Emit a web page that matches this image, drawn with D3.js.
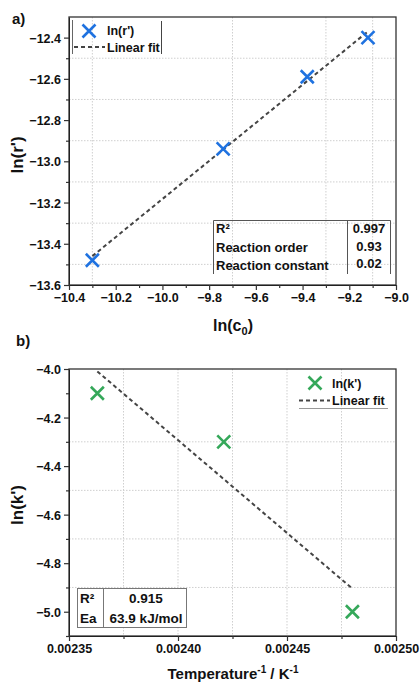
<!DOCTYPE html>
<html>
<head>
<meta charset="utf-8">
<script src="https://cdn.jsdelivr.net/npm/d3@7"></script>
<style>
  body { margin: 0; background: #fff; }
  text { font-family: "Liberation Sans", Arial, sans-serif; font-weight: bold; fill: #111; }
</style>
</head>
<body>
<svg width="420" height="683"></svg>
<script>
"use strict";
// panel a: ln(r') vs ln(c0)
const lnC0 = [-10.30, -9.74, -9.38, -9.12];
const lnR = [-13.48, -12.94, -12.59, -12.40];
const fitAx = [-10.30, -9.12];
const fitAy = [-13.46, -12.37];
const aXTicks = [-10.4, -10.2, -10.0, -9.8, -9.6, -9.4, -9.2, -9.0];
const aYTicks = [-13.6, -13.4, -13.2, -13.0, -12.8, -12.6, -12.4];
const aXGrid = [-10.3, -9.7, -9.3, -9.1];
const aYGrid = [-13.5, -13.3, -13.1, -12.9, -12.7, -12.5];
const aTable = [["R²", "0.997"], ["Reaction order", "0.93"], ["Reaction constant", "0.02"]];

// panel b: ln(k') vs 1/T
const invT = [0.002363, 0.002421, 0.002480];
const lnK = [-4.10, -4.30, -5.00];
const fitBx = [0.002363, 0.002480];
const fitBy = [-4.01, -4.905];
const bXTicks = [0.00235, 0.00240, 0.00245, 0.00250];
const bYTicks = [-5.0, -4.8, -4.6, -4.4, -4.2, -4.0];
const bXGrid = [0.002375, 0.00240, 0.002425, 0.00245, 0.002475];
const bYGrid = [-4.9, -4.7, -4.5, -4.3];
const bTable = [["R²", "0.915"], ["Ea", "63.9 kJ/mol"]];

const blue = "#1f72e0", green = "#35a85a", axisCol = "#333";
const xPath = "M-6.5,-6.5L6.5,6.5M-6.5,6.5L6.5,-6.5";
let svg = d3.select("svg");

function xMark(g, x, y, xs, ys, color) {
    g.selectAll("path.pt")
        .data(xs)
        .enter().append("path")
        .attr("class", "pt")
        .attr("transform", (d, i) => "translate(" + x(d) + "," + y(ys[i]) + ")")
        .attr("d", xPath)
        .attr("stroke", color)
        .attr("stroke-width", 2.6)
        .attr("fill", "none");
}

function panel(opt) {
    let g = svg.append("g");
    let x = d3.scaleLinear().domain(opt.xDomain).range([69, 396]);
    let y = d3.scaleLinear().domain(opt.yDomain).range(opt.yRange);
    let top = opt.yRange[1], bottom = opt.yRange[0];

    // grid
    g.selectAll("line.gx").data(opt.xGrid).enter().append("line")
        .attr("x1", d => x(d)).attr("x2", d => x(d))
        .attr("y1", top).attr("y2", bottom)
        .attr("stroke", "#cfcfcf").attr("stroke-dasharray", "1.5,1.5");
    g.selectAll("line.gy").data(opt.yGrid).enter().append("line")
        .attr("x1", 69).attr("x2", 396)
        .attr("y1", d => y(d)).attr("y2", d => y(d))
        .attr("stroke", "#cfcfcf").attr("stroke-dasharray", "1.5,1.5");

    // minor ticks
    g.append("g").attr("transform", "translate(0," + bottom + ")")
        .call(d3.axisBottom(x).tickValues(opt.xMinor).tickSize(3).tickFormat("").tickSizeOuter(0));
    g.append("g").attr("transform", "translate(69,0)")
        .call(d3.axisLeft(y).tickValues(opt.yMinor).tickSize(3).tickFormat("").tickSizeOuter(0));

    // major axes
    let xa = g.append("g").attr("transform", "translate(0," + bottom + ")")
        .call(d3.axisBottom(x).tickValues(opt.xTicks).tickFormat(opt.xFmt).tickSize(5).tickSizeOuter(0));
    let ya = g.append("g").attr("transform", "translate(69,0)")
        .call(d3.axisLeft(y).tickValues(opt.yTicks).tickFormat(d3.format(".1f")).tickSize(5).tickSizeOuter(0));
    [xa, ya].forEach(a => {
        a.selectAll("text").style("font-size", "12.5px").attr("fill", "#111");
        a.select(".domain").remove();
    });
    xa.selectAll("text").attr("y", 8);
    ya.selectAll("text").attr("x", -8).attr("dy", "0.36em");
    g.selectAll(".tick line").attr("stroke", axisCol).attr("stroke-width", 1.2);

    g.append("rect")
        .attr("x", 69).attr("y", top)
        .attr("width", 327).attr("height", bottom - top)
        .attr("fill", "none").attr("stroke", axisCol).attr("stroke-width", 1.3);

    // fit line
    g.append("path")
        .datum(opt.fitX)
        .attr("d", d3.line().x(d => x(d)).y((d, i) => y(opt.fitY[i])))
        .attr("stroke", "#444").attr("stroke-width", 2)
        .attr("stroke-dasharray", "4,3").attr("fill", "none");

    xMark(g, x, y, opt.xs, opt.ys, opt.color);
    return g;
}

panel({
    xDomain: [-10.4, -9.0], yDomain: [-13.6, -12.3], yRange: [285, 17],
    xTicks: aXTicks, yTicks: aYTicks,
    xMinor: d3.range(-10.3, -9.0, 0.2), yMinor: d3.range(-13.5, -12.35, 0.2),
    xGrid: aXGrid, yGrid: aYGrid, xFmt: d3.format(".1f"),
    fitX: fitAx, fitY: fitAy, xs: lnC0, ys: lnR, color: blue
});

panel({
    xDomain: [0.00235, 0.00250], yDomain: [-5.1, -4.0], yRange: [636, 369],
    xTicks: bXTicks, yTicks: bYTicks,
    xMinor: [0.002375, 0.002425, 0.002475], yMinor: d3.range(-5.1, -4.05, 0.2),
    xGrid: bXGrid, yGrid: bYGrid, xFmt: d3.format(".5f"),
    fitX: fitBx, fitY: fitBy, xs: invT, ys: lnK, color: green
});

// panel labels
svg.append("text").attr("x", 12).attr("y", 24).style("font-size", "15px").text("a)");
svg.append("text").attr("x", 16).attr("y", 346).style("font-size", "15px").text("b)");

// axis titles
svg.append("text").attr("transform", "translate(23,155) rotate(-90)")
    .attr("text-anchor", "middle").style("font-size", "17px").text("ln(r')");
svg.append("text").attr("transform", "translate(23,505) rotate(-90)")
    .attr("text-anchor", "middle").style("font-size", "17px").text("ln(k')");

let tA = svg.append("text").attr("x", 233).attr("y", 331)
    .attr("text-anchor", "middle").style("font-size", "16px");
tA.append("tspan").text("ln(c");
tA.append("tspan").attr("dy", 4).style("font-size", "11px").text("0");
tA.append("tspan").attr("dy", -4).text(")");

let tB = svg.append("text").attr("x", 233).attr("y", 679)
    .attr("text-anchor", "middle").style("font-size", "15px");
tB.append("tspan").text("Temperature");
tB.append("tspan").attr("dy", -6).style("font-size", "10px").text("-1");
tB.append("tspan").attr("dy", 6).text(" / K");
tB.append("tspan").attr("dy", -6).style("font-size", "10px").text("-1");

// legend a
let la = svg.append("g");
la.append("line").attr("x1", 72.5).attr("x2", 72.5).attr("y1", 20).attr("y2", 54).attr("stroke", "#666");
la.append("line").attr("x1", 161.5).attr("x2", 161.5).attr("y1", 21).attr("y2", 54).attr("stroke", "#444");
la.append("path").attr("transform", "translate(89,31)")
    .attr("d", xPath)
    .attr("stroke", blue).attr("stroke-width", 2.6).attr("fill", "none");
la.append("line").attr("x1", 74).attr("x2", 105).attr("y1", 47).attr("y2", 47)
    .attr("stroke", "#444").attr("stroke-width", 2).attr("stroke-dasharray", "4,3");
la.append("text").attr("x", 107).attr("y", 35).style("font-size", "12.5px").text("ln(r')");
la.append("text").attr("x", 107).attr("y", 51.5).style("font-size", "12.5px").text("Linear fit");

// legend b
let lb = svg.append("g");
lb.append("path").attr("transform", "translate(315,383)")
    .attr("d", xPath)
    .attr("stroke", green).attr("stroke-width", 2.6).attr("fill", "none");
lb.append("line").attr("x1", 299).attr("x2", 330).attr("y1", 400.5).attr("y2", 400.5)
    .attr("stroke", "#444").attr("stroke-width", 2).attr("stroke-dasharray", "4,3");
lb.append("text").attr("x", 332).attr("y", 388).style("font-size", "12.5px").text("ln(k')");
lb.append("text").attr("x", 332).attr("y", 404.5).style("font-size", "12.5px").text("Linear fit");
lb.append("line").attr("x1", 299).attr("x2", 388).attr("y1", 408.5).attr("y2", 408.5)
    .attr("stroke", "#999");

// table a
let ta = svg.append("g");
ta.append("path").attr("d", "M213.5,274V220.5H390.5V274M347.5,220.5V274")
    .attr("stroke", "#555").attr("fill", "none");
ta.selectAll("text.k").data(aTable).enter().append("text").attr("class", "k")
    .attr("x", 216).attr("y", (d, i) => [233, 252, 270][i])
    .style("font-size", "13px").text(d => d[0]);
ta.selectAll("text.v").data(aTable).enter().append("text").attr("class", "v")
    .attr("x", 369).attr("y", (d, i) => [233, 251, 268][i])
    .attr("text-anchor", "middle").style("font-size", "13px").text(d => d[1]);

// table b
let tb = svg.append("g");
tb.append("rect").attr("x", 77.5).attr("y", 588.5).attr("width", 109).attr("height", 39)
    .attr("fill", "#fff").attr("stroke", "#777");
tb.append("line").attr("x1", 103.5).attr("x2", 103.5).attr("y1", 588.5).attr("y2", 627.5).attr("stroke", "#777");
tb.selectAll("text.k").data(bTable).enter().append("text").attr("class", "k")
    .attr("x", 80).attr("y", (d, i) => [603, 623][i])
    .style("font-size", "13.5px").text(d => d[0]);
tb.selectAll("text.v").data(bTable).enter().append("text").attr("class", "v")
    .attr("x", 146).attr("y", (d, i) => [603, 623][i])
    .attr("text-anchor", "middle").style("font-size", "13.5px").text(d => d[1]);
</script>
</body>
</html>
